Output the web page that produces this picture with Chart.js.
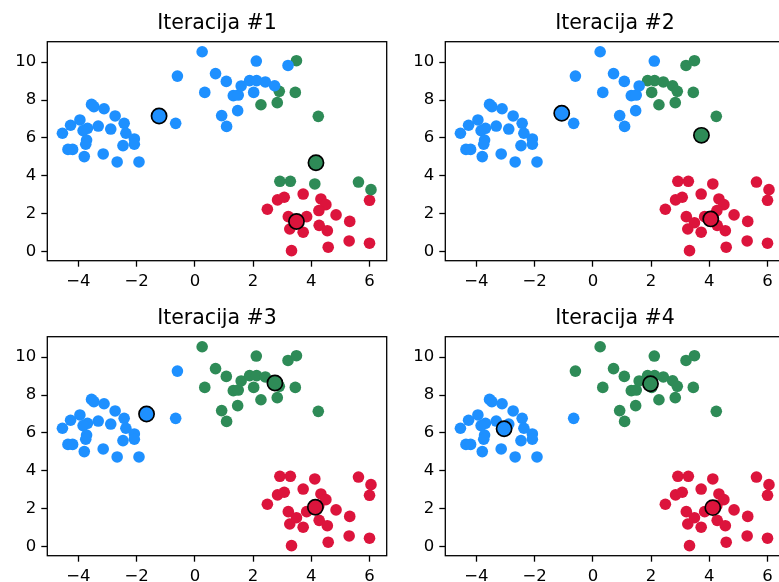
<!DOCTYPE html>
<html>
<head>
<meta charset="utf-8">
<script src="https://cdn.jsdelivr.net/npm/chart.js@4/dist/chart.umd.min.js"></script>
<style>
  html, body { margin: 0; padding: 0; background: #fff; }
  #wrap { position: relative; width: 779px; height: 582px; overflow: hidden; background: #fff; }
  #wrap canvas { position: absolute; }
</style>
</head>
<body>
<div id="wrap">
  <canvas id="c1" width="396" height="301" style="left:0;top:0"></canvas>
  <canvas id="c2" width="396" height="301" style="left:398px;top:0"></canvas>
  <canvas id="c3" width="396" height="301" style="left:0;top:295px"></canvas>
  <canvas id="c4" width="396" height="301" style="left:398px;top:295px"></canvas>
</div>
<script>
// points: left blob (24), two stragglers, upper blob (23), lower-right blob (26)
const xs = [
  -4.55, -4.27, -3.95, -3.55, -3.47, -3.12, -2.74, -2.43, -2.37, -2.08, -2.08, -2.47,
  -2.89, -3.32, -3.69, -3.84, -3.72, -3.75, -4.36, -4.20, -3.80, -3.15, -2.67, -1.92,
  -0.66, -0.60,
  0.25, 0.34, 0.71, 1.08, 0.92, 1.09, 1.47, 1.32, 1.49, 1.59, 1.88, 2.12, 2.02, 2.11, 2.42, 2.74, 3.20,
  3.49, 2.90, 3.45, 2.27, 2.83, 4.24,
  2.92, 3.28, 4.12, 5.62, 6.05,
  2.49, 2.84, 3.07, 3.72, 4.33, 4.50, 4.26, 4.85, 5.32, 6.00, 3.21,
  3.84, 3.26, 3.49, 3.72, 4.27, 4.55, 5.30, 6.00, 4.58, 3.32,
];
const ys = [
  6.25, 6.67, 6.95, 7.77, 7.65, 7.54, 7.16, 6.77, 6.25, 5.95, 5.67, 5.60,
  6.47, 6.63, 6.51, 6.39, 5.89, 5.67, 5.40, 5.40, 5.02, 5.16, 4.74, 4.74,
  6.77, 9.26,
  10.54, 8.40, 9.39, 8.98, 7.18, 6.61, 7.44, 8.23, 8.26, 8.74, 9.02, 9.02, 8.40, 10.05, 8.95, 8.75, 9.82,
  10.07, 8.46, 8.40, 7.75, 7.86, 7.14,
  3.72, 3.72, 3.58, 3.68, 3.28,
  2.25, 2.74, 2.88, 3.05, 2.79, 2.49, 2.18, 1.95, 1.61, 2.72, 1.86,
  1.86, 1.21, 1.54, 1.04, 1.40, 1.12, 0.58, 0.46, 0.25, 0.07,
];

// cluster index of every point per iteration (0 blue, 1 green, 2 red)
const labels1 = [
  0,0,0,0,0,0,0,0,0,0,0,0, 0,0,0,0,0,0,0,0,0,0,0,0,
  0,0,
  0,0,0,0,0,0,0,0,0,0,0,0,0,0,0,0,0,
  1,1,1,1,1,1,
  1,1,1,1,1,
  2,2,2,2,2,2,2,2,2,2,2, 2,2,2,2,2,2,2,2,2,2,
];
const labels2 = [
  0,0,0,0,0,0,0,0,0,0,0,0, 0,0,0,0,0,0,0,0,0,0,0,0,
  0,0,
  0,0,0,0,0,0,0,0,0,0,1,1,1,0,1,1,1,
  1,1,1,1,1,1,
  2,2,2,2,2,
  2,2,2,2,2,2,2,2,2,2,2, 2,2,2,2,2,2,2,2,2,2,
];
const labels3 = [
  0,0,0,0,0,0,0,0,0,0,0,0, 0,0,0,0,0,0,0,0,0,0,0,0,
  0,0,
  1,1,1,1,1,1,1,1,1,1,1,1,1,1,1,1,1,
  1,1,1,1,1,1,
  2,2,2,2,2,
  2,2,2,2,2,2,2,2,2,2,2, 2,2,2,2,2,2,2,2,2,2,
];
const labels4 = [
  0,0,0,0,0,0,0,0,0,0,0,0, 0,0,0,0,0,0,0,0,0,0,0,0,
  0,1,
  1,1,1,1,1,1,1,1,1,1,1,1,1,1,1,1,1,
  1,1,1,1,1,1,
  2,2,2,2,2,
  2,2,2,2,2,2,2,2,2,2,2, 2,2,2,2,2,2,2,2,2,2,
];

// centroids per iteration: [blue, green, red]
const cx1 = [-1.23, 4.16, 3.49], cy1 = [7.16, 4.70, 1.60];
const cx2 = [-1.07, 3.73, 4.05], cy2 = [7.30, 6.14, 1.74];
const cx3 = [-1.66, 2.75, 4.14], cy3 = [7.00, 8.63, 2.09];
const cx4 = [-3.05, 1.98, 4.12], cy4 = [6.22, 8.59, 2.07];

const titles = ['Iteracija #1', 'Iteracija #2', 'Iteracija #3', 'Iteracija #4'];
const xTicks = [-4, -2, 0, 2, 4, 6];
const yTicks = [0, 2, 4, 6, 8, 10];
const colors = ['#1e90ff', '#2e8b57', '#dc143c'];

Chart.defaults.font.family = "'DejaVu Sans', sans-serif";
Chart.defaults.color = '#000';

const frame = {
  id: 'frame',
  afterDraw(chart) {
    const { ctx, chartArea: a } = chart;
    ctx.save();
    ctx.strokeStyle = '#000'; ctx.lineWidth = 1.3;
    ctx.strokeRect(a.left, a.top, a.right - a.left, a.bottom - a.top);
    ctx.restore();
  },
};

const fmt = v => (v < 0 ? '\u2212' + Math.abs(v) : String(v));

function axis(min, max, ticks, fit) {
  return {
    type: 'linear', min, max,
    afterBuildTicks: s => { s.ticks = ticks.map(value => ({ value })); },
    afterFit: fit,
    border: { display: false },
    grid: { drawOnChartArea: false, drawTicks: true, tickLength: 6, tickColor: '#000', tickWidth: 1.3 },
    ticks: { font: { size: 16.5 }, color: '#000', padding: 5, callback: fmt, maxRotation: 0 },
  };
}

function draw(id, title, labels, cx, cy) {
  const datasets = colors.map((c, k) => ({
    data: xs.map((x, i) => ({ x, y: ys[i] })).filter((p, i) => labels[i] === k),
    backgroundColor: c, pointRadius: 5.8, pointBorderWidth: 0, pointHoverRadius: 5.8, order: 1,
  }));
  colors.forEach((c, k) => datasets.push({
    data: [{ x: cx[k], y: cy[k] }], order: 0,
    backgroundColor: c, borderColor: '#000', pointRadius: 7.6, pointBorderWidth: 1.7, pointHoverRadius: 7.6,
  }));
  return new Chart(document.getElementById(id), {
    type: 'scatter',
    data: { datasets },
    plugins: [frame],
    options: {
      responsive: false, animation: false, devicePixelRatio: 1,
      layout: { padding: { left: 0, top: 0, right: 1.3, bottom: 5.3 } },
      plugins: {
        legend: { display: false }, tooltip: { enabled: false },
        title: { display: true, text: title, fullSize: false, color: '#000',
          font: { size: 20.5, weight: 'normal', lineHeight: 1.2 }, padding: { top: 11.7, bottom: 5.4 } },
      },
      scales: {
        x: axis(-5.07, 6.59, xTicks, s => { s.height = 35; }),
        y: axis(-0.46, 11.07, yTicks, s => { s.width = 47.3; }),
      },
    },
  });
}

draw('c1', titles[0], labels1, cx1, cy1);
draw('c2', titles[1], labels2, cx2, cy2);
draw('c3', titles[2], labels3, cx3, cy3);
draw('c4', titles[3], labels4, cx4, cy4);
</script>
</body>
</html>
